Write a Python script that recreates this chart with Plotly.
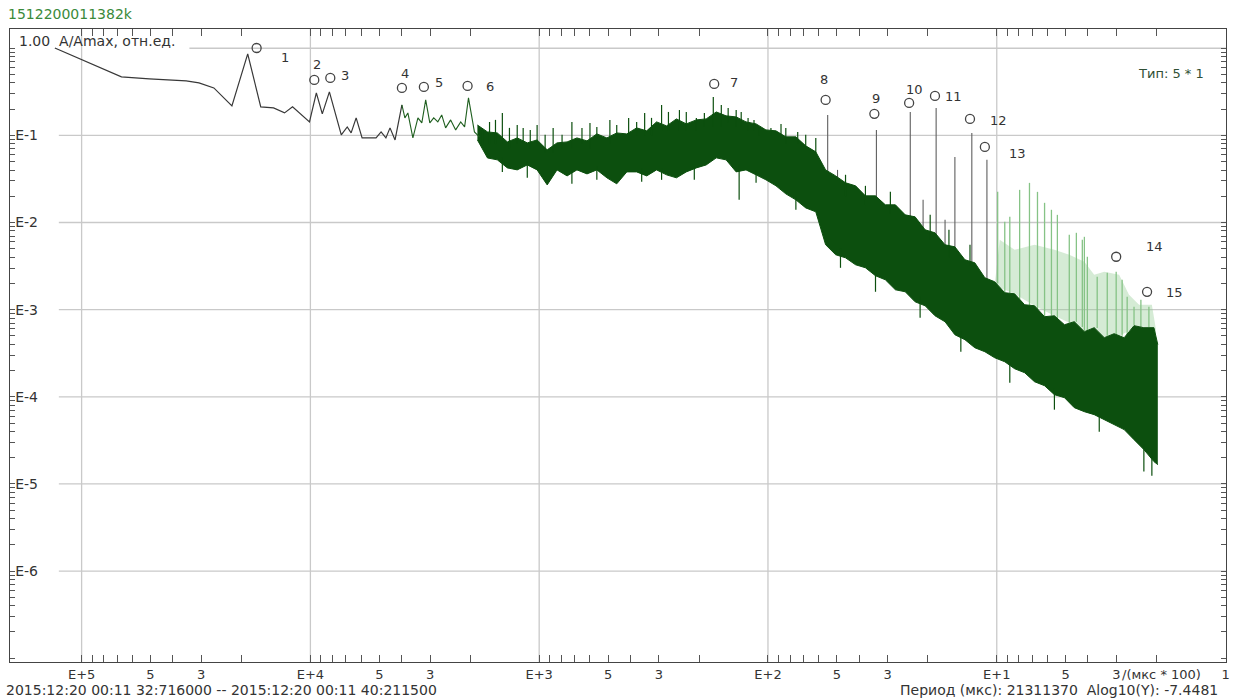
import plotly.graph_objects as go

# ---------------- data (log10 values) ----------------
# sparse start of the spectrum (dark grey line)
lg_period_left = [5.117, 4.826, 4.704, 4.543, 4.487, 4.422, 4.343, 4.274, 4.217, 4.161,
                  4.113, 4.078, 4.004, 3.974, 3.948, 3.917, 3.865, 3.839, 3.822, 3.800,
                  3.774, 3.713, 3.691, 3.670, 3.652, 3.630, 3.600]
lg_amp_left = [0.003, -0.329, -0.352, -0.375, -0.398, -0.455, -0.662, -0.065, -0.673, -0.685,
               -0.742, -0.673, -0.845, -0.513, -0.753, -0.501, -0.994, -0.903, -0.971, -0.799,
               -1.029, -1.029, -0.960, -1.029, -0.914, -1.052, -0.650]

# green continuation of the line
lg_period_green = [3.600, 3.587, 3.574, 3.552, 3.530, 3.513, 3.496, 3.478, 3.461, 3.443,
                   3.426, 3.409, 3.387, 3.365, 3.343, 3.326, 3.309, 3.300, 3.283, 3.261]
lg_amp_green = [-0.650, -0.799, -0.742, -1.029, -0.799, -0.857, -0.593, -0.857, -0.799, -0.845,
                -0.765, -0.914, -0.822, -0.937, -0.845, -0.903, -0.570, -0.708, -0.960, -1.017]

# dense part of the spectrum: upper and lower envelope
lg_period_band = [3.270, 3.226, 3.183, 3.139, 3.096, 3.052, 3.009, 2.965, 2.922, 2.878,
                  2.835, 2.791, 2.748, 2.704, 2.661, 2.617, 2.574, 2.530, 2.487, 2.443,
                  2.400, 2.357, 2.313, 2.270, 2.226, 2.183, 2.139, 2.096, 2.052, 2.009,
                  1.965, 1.922, 1.878, 1.835, 1.791, 1.748, 1.704, 1.661, 1.617, 1.574,
                  1.530, 1.487, 1.443, 1.400, 1.357, 1.313, 1.270, 1.226, 1.183, 1.139,
                  1.096, 1.052, 1.009, 0.965, 0.922, 0.878, 0.835, 0.791, 0.748, 0.704,
                  0.661, 0.617, 0.574, 0.530, 0.487, 0.443, 0.400, 0.357, 0.313, 0.296]
lg_amp_band_top = [-0.881, -0.960, -0.972, -1.075, -1.029, -1.086, -1.052, -1.166, -1.086, -1.075,
                   -1.029, -1.063, -0.983, -1.029, -0.972, -0.983, -0.914, -0.948, -0.845, -0.891,
                   -0.811, -0.868, -0.822, -0.811, -0.731, -0.776, -0.788, -0.845, -0.868, -0.937,
                   -0.948, -1.017, -1.017, -1.120, -1.189, -1.396, -1.465, -1.544, -1.579, -1.694,
                   -1.694, -1.797, -1.797, -1.912, -1.935, -2.084, -2.118, -2.256, -2.279, -2.428,
                   -2.462, -2.634, -2.680, -2.806, -2.818, -2.944, -2.955, -3.081, -3.070, -3.173,
                   -3.138, -3.253, -3.207, -3.322, -3.276, -3.322, -3.184, -3.207, -3.207, -3.402]
lg_amp_band_bottom = [-1.052, -1.259, -1.281, -1.373, -1.396, -1.339, -1.396, -1.568, -1.396, -1.465,
                      -1.396, -1.442, -1.396, -1.487, -1.556, -1.419, -1.419, -1.465, -1.396, -1.453,
                      -1.487, -1.419, -1.373, -1.339, -1.258, -1.281, -1.419, -1.396, -1.453, -1.510,
                      -1.579, -1.671, -1.740, -1.832, -1.877, -2.255, -2.370, -2.405, -2.485, -2.519,
                      -2.611, -2.657, -2.772, -2.795, -2.910, -2.956, -3.070, -3.139, -3.288, -3.345,
                      -3.437, -3.483, -3.552, -3.598, -3.678, -3.724, -3.827, -3.873, -3.976, -4.010,
                      -4.125, -4.171, -4.205, -4.262, -4.320, -4.377, -4.492, -4.606, -4.744, -4.779]

# dark green spikes sticking out of the dense part (start -> end)
lg_period_spk = [3.217, 3.161, 3.096, 3.070, 3.009, 2.939, 2.857, 2.778, 2.691, 2.609,
                 2.539, 2.465, 2.387, 2.313, 2.278, 2.239, 2.204, 2.139, 2.087, 2.039,
                 1.922, 1.870, 1.791, 2.126, 1.683, 1.530, 1.335, 1.157, 0.943, 0.748,
                 0.552, 0.357, 0.322,
                 3.248, 3.191, 3.130, 3.039, 2.974, 2.900, 2.813, 2.748, 2.661, 2.574,
                 2.509, 2.435, 2.357, 2.174, 2.117, 2.061, 1.987, 1.943, 1.835,
                 3.161, 3.052, 2.857, 2.748, 2.552, 2.465, 2.322, 2.052, 1.878,
                 1.661, 1.574, 1.465, 1.291, 1.209, 1.117]
lg_amp_spk_end = [-0.846, -0.743, -0.881, -0.915, -0.881, -0.915, -0.846, -0.858, -0.823, -0.800,
                  -0.743, -0.651, -0.709, -0.800, -0.743, -0.559, -0.651, -0.709, -0.800, -0.904,
                  -0.915, -0.961, -1.030, -1.740, -2.520, -2.795, -3.093, -3.483, -3.838, -4.148,
                  -4.400, -4.859, -4.905,
                  -0.937, -0.822, -0.914, -0.937, -0.994, -0.994, -0.914, -0.903, -0.880, -0.845,
                  -0.799, -0.731, -0.731, -0.685, -0.731, -0.822, -0.914, -0.868, -0.994,
                  -1.419, -1.487, -1.556, -1.510, -1.533, -1.510, -1.510, -1.544, -1.854,
                  -1.452, -1.579, -1.648, -1.912, -2.084, -2.256]
lg_amp_spk_start = [-1.10, -1.10, -1.10, -1.10, -1.10, -1.20, -1.15, -1.15, -1.10, -1.05,
                    -1.00, -0.95, -0.95, -0.95, -0.90, -0.90, -0.90, -0.90, -0.95, -1.00,
                    -1.10, -1.10, -1.20, -1.338, -2.30, -2.55, -2.85, -3.25, -3.60, -3.90,
                    -4.20, -4.55, -4.60,
                    -1.10, -1.10, -1.15, -1.15, -1.20, -1.15, -1.10, -1.05, -1.05, -1.00,
                    -1.00, -0.95, -0.95, -0.85, -0.90, -0.95, -1.00, -1.00, -1.15,
                    -1.25, -1.30, -1.40, -1.35, -1.38, -1.38, -1.35, -1.40, -1.70,
                    -1.70, -1.80, -1.90, -2.20, -2.40, -2.50]

# thin grey harmonic lines
lg_period_harm = [1.739, 1.696, 1.526, 1.378, 1.322, 1.265, 1.226, 1.183, 1.109, 1.043]
lg_amp_harm_top = [-0.765, -1.396, -0.937, -0.731, -1.740, -0.685, -1.969, -1.247, -0.972, -1.281]
lg_amp_harm_base = [-1.60, -1.60, -1.85, -2.05, -2.15, -2.25, -2.35, -2.40, -2.55, -2.70]

# light green harmonic lines at the short-period end
lg_period_light = [0.996, 0.965, 0.943, 0.900, 0.857, 0.822, 0.791, 0.761, 0.735, 0.683,
                   0.652, 0.626, 0.617, 0.604, 0.561, 0.517, 0.478, 0.452, 0.430, 0.400,
                   0.370, 0.335]
lg_amp_light_top = [-1.648, -1.992, -1.935, -1.625, -1.545, -1.648, -1.774, -1.854, -1.912, -2.141,
                    -2.118, -2.198, -2.164, -2.393, -2.623, -2.577, -2.565, -2.657, -2.852, -2.966,
                    -2.886, -2.966]
lg_amp_light_base = [-2.70, -2.80, -2.81, -2.88, -2.95, -3.00, -3.08, -3.07, -3.10, -3.15,
                     -3.14, -3.20, -3.25, -3.25, -3.21, -3.30, -3.28, -3.30, -3.30, -3.18,
                     -3.20, -3.20]

# light green haze between harmonic lines
lg_period_haze = [1.009, 0.987, 0.922, 0.835, 0.748, 0.683, 0.617, 0.574, 0.530, 0.465,
                  0.422, 0.378, 0.322, 0.304]
lg_amp_haze_top = [-2.714, -2.198, -2.313, -2.256, -2.313, -2.370, -2.451, -2.600, -2.565, -2.600,
                   -2.829, -2.944, -2.944, -3.231]
lg_amp_haze_low = [-2.680, -2.750, -2.818, -2.955, -3.070, -3.150, -3.253, -3.207, -3.322, -3.300,
                   -3.250, -3.190, -3.207, -3.300]

# numbered peaks
lg_period_mark = [4.235, 3.983, 3.913, 3.600, 3.504, 3.313, 2.235, 1.748, 1.535, 1.383,
                  1.270, 1.117, 1.052, 0.478, 0.343]
lg_amp_mark = [0.003, -0.364, -0.341, -0.455, -0.444, -0.432, -0.409, -0.593, -0.753, -0.627,
               -0.547, -0.811, -1.132, -2.393, -2.795]
mark_labels = [str(i) for i in range(1, 16)]

# axis tick labels
x_decades = [5, 4, 3, 2, 1, 0]
x_label_text = {1: "E+{}", 5: "5", 3: "3"}
y_decades = [0, -1, -2, -3, -4, -5, -6, -7]
y_label_text = ["", "E-1", "E-2", "E-3", "E-4", "E-5", "E-6", ""]

title_text = "1512200011382k"
y_title = "1.00  A/Amax, отн.ед."
type_text = "Тип: 5 * 1"
time_text = "2015:12:20 00:11 32:716000 -- 2015:12:20 00:11 40:211500"
info_text = "Период (мкс): 21311370  Alog10(Y): -7.4481"
unit_text = "/(мкс * 100)"

# ---------------- styles ----------------
FONT = "DejaVu Sans"
C_DARK = "#0c4f0e"
C_GREY_LINE = "#383838"
C_GRID = "#c9c9c9"
PL, PR, PT, PB = 10, 1230, 29, 662


def pxx(x):
    return (x - PL) / (PR - PL)


def pxy(y):
    return (PB - y) / (PB - PT)


def lin(a):
    return [10 ** v for v in a]


def segments(xs, y0s, y1s):
    X, Y = [], []
    for x, a, b in zip(xs, y0s, y1s):
        X += [10 ** x, 10 ** x, None]
        Y += [10 ** a, 10 ** b, None]
    return X, Y


fig = go.Figure()

# light green haze polygon
hx = lin(lg_period_haze) + lin(lg_period_haze[::-1])
hy = lin(lg_amp_haze_top) + lin(lg_amp_haze_low[::-1])
fig.add_trace(go.Scatter(x=hx, y=hy, mode="lines", fill="toself",
                         fillcolor="rgba(150,205,150,0.40)", line=dict(width=0),
                         hoverinfo="skip", showlegend=False))

# light harmonic lines
X, Y = segments(lg_period_light, lg_amp_light_base, lg_amp_light_top)
fig.add_trace(go.Scatter(x=X, y=Y, mode="lines", line=dict(color="#86c386", width=1.3),
                         hoverinfo="skip", showlegend=False))

# grey harmonic lines
X, Y = segments(lg_period_harm, lg_amp_harm_base, lg_amp_harm_top)
fig.add_trace(go.Scatter(x=X, y=Y, mode="lines", line=dict(color="#5f5f5f", width=1.1),
                         hoverinfo="skip", showlegend=False))

# dense band
fig.add_trace(go.Scatter(x=lin(lg_period_band), y=lin(lg_amp_band_bottom), mode="lines",
                         line=dict(color=C_DARK, width=1), hoverinfo="skip", showlegend=False))
fig.add_trace(go.Scatter(x=lin(lg_period_band), y=lin(lg_amp_band_top), mode="lines",
                         line=dict(color=C_DARK, width=1), fill="tonexty", fillcolor=C_DARK,
                         hoverinfo="skip", showlegend=False))

# dark spikes
X, Y = segments(lg_period_spk, lg_amp_spk_start, lg_amp_spk_end)
fig.add_trace(go.Scatter(x=X, y=Y, mode="lines", line=dict(color=C_DARK, width=1.2),
                         hoverinfo="skip", showlegend=False))

# sparse lines
fig.add_trace(go.Scatter(x=lin(lg_period_left), y=lin(lg_amp_left), mode="lines",
                         line=dict(color=C_GREY_LINE, width=1.2), showlegend=False))
fig.add_trace(go.Scatter(x=lin(lg_period_green), y=lin(lg_amp_green), mode="lines",
                         line=dict(color="#1f5f1f", width=1.1), showlegend=False))

# markers
fig.add_trace(go.Scatter(x=lin(lg_period_mark), y=lin(lg_amp_mark), mode="markers",
                         marker=dict(symbol="circle-open", size=9, color="#444444",
                                     line=dict(color="#444444", width=1.3)),
                         showlegend=False))

label_offsets = [(28, 10), (3, -15), (15, -2), (3, -14), (15, -4), (22, 1), (20, -1), (-2, -20),
                 (2, -15), (5, -13), (19, 1), (29, 2), (33, 7), (38, -10), (27, 1)]
annotations = []
for lp, la, t, (dx, dy) in zip(lg_period_mark, lg_amp_mark, mark_labels, label_offsets):
    annotations.append(dict(x=lp, y=la, xref="x", yref="y", text=t, showarrow=False,
                            xshift=dx, yshift=-dy, font=dict(family=FONT, size=13, color="#333333")))

# texts
annotations += [
    dict(x=pxx(6), y=pxy(14), xref="paper", yref="paper", text=title_text, showarrow=False,
         xanchor="left", yanchor="middle", font=dict(family=FONT, size=14, color="#3a8a3a")),
    dict(x=pxx(17), y=pxy(41), xref="paper", yref="paper", text=y_title, showarrow=False,
         xanchor="left", yanchor="middle", font=dict(family=FONT, size=14, color="#333333")),
    dict(x=pxx(1175), y=pxy(74), xref="paper", yref="paper", text=type_text, showarrow=False,
         xanchor="center", yanchor="middle", font=dict(family=FONT, size=13, color="#2f4f35")),
    dict(x=pxx(4), y=pxy(690), xref="paper", yref="paper", text=time_text, showarrow=False,
         xanchor="left", yanchor="middle", font=dict(family=FONT, size=14, color="#333333")),
    dict(x=pxx(1224), y=pxy(690), xref="paper", yref="paper", text=info_text, showarrow=False,
         xanchor="right", yanchor="middle", font=dict(family=FONT, size=14, color="#333333")),
    dict(x=pxx(1124), y=pxy(674), xref="paper", yref="paper", text=unit_text, showarrow=False,
         xanchor="left", yanchor="middle", font=dict(family=FONT, size=13, color="#333333")),
]

# gridlines (shape coordinates are data values on log axes)
shapes = []
for d in x_decades[:-1]:
    shapes.append(dict(type="line", xref="x", yref="paper", x0=10 ** d, x1=10 ** d, y0=0, y1=1,
                       layer="below", line=dict(color=C_GRID, width=1.3)))
for d in y_decades[:-1]:
    x0 = pxx(190) if d == 0 else pxx(59)
    shapes.append(dict(type="line", xref="paper", yref="y", x0=x0, x1=1, y0=10.0 ** d, y1=10.0 ** d,
                       layer="below", line=dict(color=C_GRID, width=1.3)))

# ticks
x_tickvals, x_ticktext = [], []
for d in x_decades:
    for m in range(1, 10):
        x_tickvals.append(m * 10 ** d)
        if m in x_label_text:
            if m == 1:
                x_ticktext.append("1" if d == 0 else x_label_text[1].format(d))
            else:
                x_ticktext.append(x_label_text[m])
        else:
            x_ticktext.append("")
y_tickvals, y_ticktext = [], []
for d, lab in zip(y_decades, y_label_text):
    for m in range(1, 10):
        y_tickvals.append(m * 10.0 ** d)
        y_ticktext.append(lab if m == 1 else "")

fig.update_layout(
    width=1236, height=698,
    margin=dict(l=PL, r=1236 - PR, t=PT, b=698 - PB),
    paper_bgcolor="white", plot_bgcolor="white",
    showlegend=False,
    annotations=annotations,
    shapes=shapes,
    xaxis=dict(type="log", range=[5.313, -0.002], tickmode="array", tickvals=x_tickvals,
               ticktext=x_ticktext, ticks="inside", ticklen=7, tickwidth=1, tickcolor="#555555",
               showgrid=False, zeroline=False, showline=True, linecolor="#444444",
               linewidth=1, mirror="allticks",
               tickfont=dict(family=FONT, size=13, color="#333333")),
    yaxis=dict(type="log", range=[-7.044, 0.221], tickmode="array", tickvals=y_tickvals,
               ticktext=y_ticktext, ticks="inside", ticklen=5, tickwidth=1, tickcolor="#555555",
               ticklabelposition="inside", showgrid=False, zeroline=False, showline=True,
               linecolor="#444444", linewidth=1, mirror="allticks",
               tickfont=dict(family=FONT, size=14, color="#333333")),
)

fig.write_html("out.html")
